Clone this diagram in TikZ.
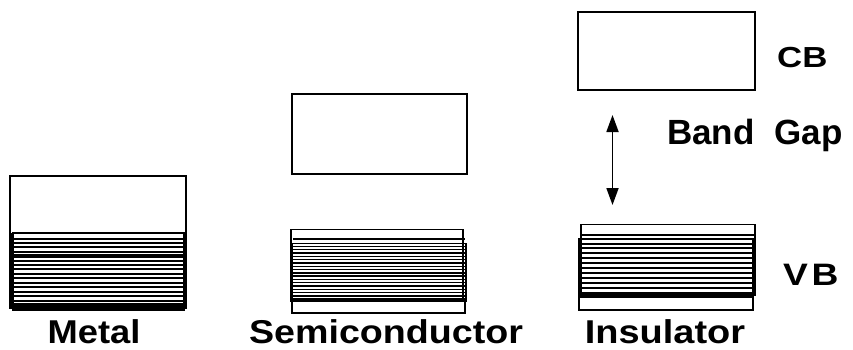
\documentclass[tikz,border=0pt]{standalone}
\usepackage{fontspec}
\usepackage{graphicx}
\setmainfont{Liberation Sans}
\usetikzlibrary{arrows.meta}
\newcommand{\wide}[2]{\scalebox{#1}[1]{#2}}
\begin{document}
\begin{tikzpicture}[x=1pt,y=-1pt,
  box/.style={draw=black,line width=1.6pt},
  hl/.style={draw=black,line width=1.7pt},
  hls/.style={draw=black,line width=1.4pt},
  thk/.style={draw=black,line width=3.6pt},
  lbl/.style={font=\bfseries\fontsize{33}{33}\selectfont,inner sep=0pt,anchor=base},
  side/.style={font=\bfseries\fontsize{29}{29}\selectfont,inner sep=0pt,anchor=base west},
  gaparrow/.style={line width=1.8pt,{Triangle[length=17pt,width=12pt]}-{Triangle[length=17pt,width=12pt]}}]
\useasboundingbox (0,0) rectangle (853,350);
% ---------- Metal ----------
\draw[box] (10,176) rectangle (186,308);
\draw[box] (13,233) rectangle (184,310);
\foreach \yy in {239,243.3,247.3,251.7,260.7,265,269.3,274,278.3,282.7,287.3,291.7,296,300.7}
  \draw[hl] (12,\yy) -- (185,\yy);
\draw[box] (10,233.3) -- (186,233.3);
\draw[thk] (12,256) -- (185,256);
\draw[thk] (12,305) -- (185,305);
\draw[line width=3pt] (11.5,233) -- (11.5,307);
\draw[line width=2.5pt] (185,238) -- (185,306);
% ---------- Semiconductor ----------
\draw[box] (292,94) rectangle (467,174);
\draw[box] (291,229.3) rectangle (463,299);
\draw[box] (292,243.3) rectangle (466,301);
\draw[box] (292,300) rectangle (465,312.7);
\foreach \yy in {239,246.7,249.7,253,256.3,259.6,262.9,266.2,269.5,272.8,276.1,279.4,282.7,286,289.3,292.6,295.9}
  \draw[hls] (293,\yy) -- (465,\yy);
\draw[thk] (292,300) -- (466,300);
\draw[line width=3pt] (291.5,243) -- (291.5,302);
% ---------- Insulator ----------
\draw[box] (578,12) rectangle (755,90);
\draw[box] (581,224.3) rectangle (755,295);
\draw[box] (579,239) rectangle (753,297);
\draw[box] (579,297) rectangle (753,310);
\foreach \yy in {235,244,248.3,253.3,258.3,263.3,268.3,273.3,278.3,283.3,288.3,292.8}
  \draw[hl] (580,\yy) -- (754,\yy);
\draw[thk] (579,296.5) -- (753,296.5);
\draw[line width=3.5pt] (579.5,238) -- (579.5,298);
% ---------- arrow ----------
\coordinate (gtop) at (612.5,115);
\coordinate (gbot) at (612.5,205);
\draw[gaparrow] (gtop) -- (gbot);
% ---------- labels ----------
\node[side] (cb) at (777,68) {\wide{1.2}{CB}};
\node[font=\bfseries\fontsize{31}{31}\selectfont,inner sep=0pt,anchor=base west] (vb) at (783,285) {\wide{1.2}{V\kern3pt B}};
\node[font=\bfseries\fontsize{35}{35}\selectfont,inner sep=0pt,anchor=base west] (bg) at (667,144) {Band\hspace{20pt}Gap};
\node[lbl] (metal) at (94,343.5) {\wide{1.1}{Metal}};
\node[lbl] (semi) at (386,343.5) {\wide{1.14}{Semiconductor}};
\node[lbl] (ins) at (665,343.5) {\wide{1.15}{Insulator}};
\end{tikzpicture}
\end{document}
